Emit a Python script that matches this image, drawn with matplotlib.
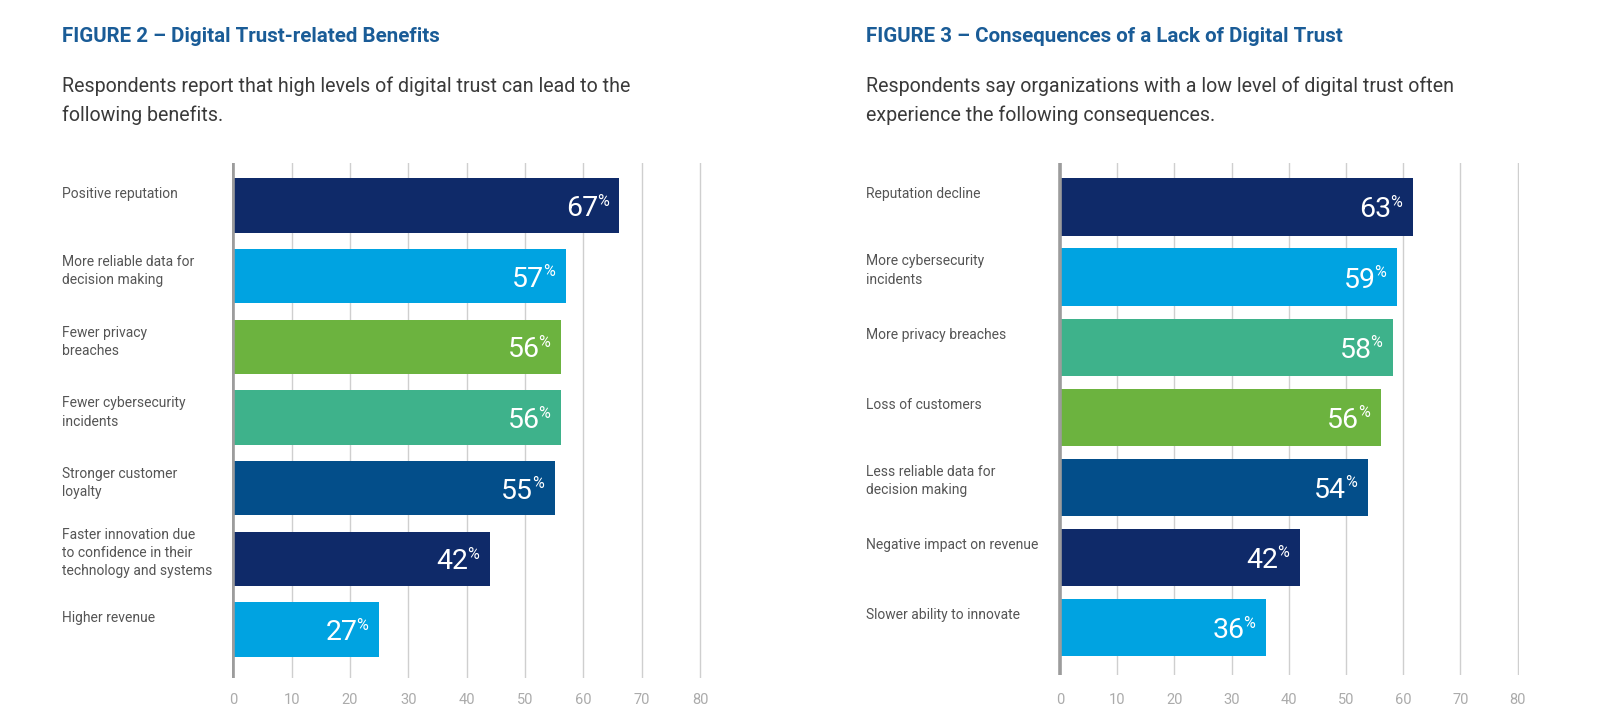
import matplotlib
matplotlib.use("Agg")
import matplotlib.pyplot as plt
import matplotlib.transforms as mtransforms

plt.rcParams['font.family'] = ['Roboto', 'DejaVu Sans']

# ---- data ----
fig2_title = "FIGURE 2 \u2013 Digital Trust-related Benefits"
fig2_sub = "Respondents report that high levels of digital trust can lead to the\nfollowing benefits."
fig2_labels = [
    "Positive reputation",
    "More reliable data for\ndecision making",
    "Fewer privacy\nbreaches",
    "Fewer cybersecurity\nincidents",
    "Stronger customer\nloyalty",
    "Faster innovation due\nto confidence in their\ntechnology and systems",
    "Higher revenue",
]
fig2_pct = [67, 57, 56, 56, 55, 42, 27]
# bar lengths as drawn (they do not always match the printed numbers)
fig2_bars = [66.2, 57.0, 56.2, 56.2, 55.1, 44.0, 25.0]

fig3_title = "FIGURE 3 \u2013 Consequences of a Lack of Digital Trust"
fig3_sub = "Respondents say organizations with a low level of digital trust often\nexperience the following consequences."
fig3_labels = [
    "Reputation decline",
    "More cybersecurity\nincidents",
    "More privacy breaches",
    "Loss of customers",
    "Less reliable data for\ndecision making",
    "Negative impact on revenue",
    "Slower ability to innovate",
]
fig3_pct = [63, 59, 58, 56, 54, 42, 36]
fig3_bars = [61.7, 58.9, 58.2, 56.1, 53.8, 41.9, 36.0]

ticks = [0, 10, 20, 30, 40, 50, 60, 70, 80]

NAVY = '#0f2a69'
LIGHT = '#00a3e1'
GREEN = '#6cb33f'
TEAL = '#3eb28b'
MID = '#034e8a'
fig2_colors = [NAVY, LIGHT, GREEN, TEAL, MID, NAVY, LIGHT]
fig3_colors = [NAVY, LIGHT, TEAL, GREEN, MID, NAVY, LIGHT]

W, H = 1615, 728
fig = plt.figure(figsize=(W / 100, H / 100), dpi=100)
fig.patch.set_facecolor('white')


def draw_panel(zero_px, px80, grid_top, grid_bottom, step_px, bar_px, first_center,
               label_x, title_x, title, sub, labels, pct, bars, colors, tick_pad):
    ppu = (px80 - zero_px) / 80.0
    pad = 0.3
    left = zero_px - pad * ppu
    width = (80 + 2 * pad) * ppu
    ax = fig.add_axes([left / W, (H - grid_bottom) / H, width / W, (grid_bottom - grid_top) / H])
    ytop = -(first_center - grid_top) / step_px
    ybot = 6 + (grid_bottom - (first_center + 6 * step_px)) / step_px
    ax.set_xlim(-pad, 80 + pad)
    ax.set_ylim(ybot, ytop)
    hgt = bar_px / step_px
    ypos = list(range(len(labels)))
    ax.barh(ypos, bars, height=hgt, color=colors, zorder=3)

    ax.set_xticks(ticks)
    ax.set_yticks([])
    ax.grid(axis='x', color='#cfcfcf', lw=1.0, zorder=0)
    ax.axvline(0, color='#9c9c9c', lw=2.6, zorder=4)
    ax.tick_params(axis='x', length=0, pad=tick_pad, labelsize=10.5, labelcolor='#ababab')
    for s in ax.spines.values():
        s.set_visible(False)

    # value labels inside bars
    for y, b, p in zip(ypos, bars, pct):
        ax.annotate(str(p), (b, y), xytext=(-15.5, -7.5), textcoords='offset points',
                    ha='right', va='baseline', color='white', fontsize=20.5, zorder=5)
        ax.annotate('%', (b, y), xytext=(-16.3, 0), textcoords='offset points',
                    ha='left', va='baseline', color='white', fontsize=11.5, zorder=5)

    # category labels at the left
    trans = mtransforms.blended_transform_factory(fig.transFigure, ax.transData)
    offs = {1: 9, 2: 6, 3: -4}
    for y, lab in zip(ypos, labels):
        n = lab.count('\n') + 1
        ytxt = y - hgt / 2 + offs[n] / step_px
        ax.text(label_x / W, ytxt, lab, transform=trans, ha='left', va='top',
                fontsize=10, color='#555555', linespacing=1.4, clip_on=False)

    fig.text(title_x / W, 1 - 27 / H, title, ha='left', va='top', fontsize=14.8,
             fontweight='bold', color='#1a5c97')
    fig.text(title_x / W, 1 - 76 / H, sub, ha='left', va='top', fontsize=14.1,
             fontweight='normal', color='#3a3a3a', linespacing=1.63)
    return ax


draw_panel(233.3, 700.0, 163, 678, 70.67, 54.4, 205.5, 62, 62,
           fig2_title, fig2_sub, fig2_labels, fig2_pct, fig2_bars, fig2_colors, 11)
draw_panel(1060.0, 1517.7, 163, 675, 70.1, 57.4, 207.0, 866, 866,
           fig3_title, fig3_sub, fig3_labels, fig3_pct, fig3_bars, fig3_colors, 13)

fig.savefig('out.png', dpi=100, facecolor='white')
